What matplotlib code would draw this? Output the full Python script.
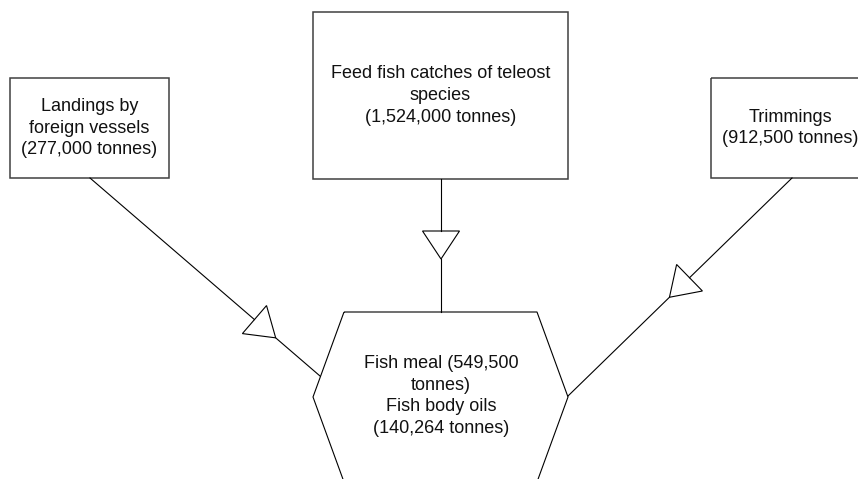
import numpy as np
import matplotlib.pyplot as plt
from matplotlib.patches import Polygon, Rectangle

# source flows and product (tonnes)
source_names = ["Landings by\nforeign vessels", "Feed fish catches of teleost\nspecies", "Trimmings"]
source_tonnes = [277000, 1524000, 912500]
meal_tonnes = 549500
oil_tonnes = 140264

# layout in pixel coordinates (x right, y down)
boxes = [(10, 78, 159, 100), (313, 12, 255, 167), (711, 78, 158, 100)]
starts = [(90, 178), (441, 179), (792, 178)]
ends = [(320, 376), (441, 312), (568, 396)]
tip_dist = [245, 80, 171]
hexagon = [(344, 312), (537, 312), (568, 397), (537, 482), (344, 482), (313, 397)]

plt.rcParams['font.family'] = ['Liberation Sans', 'DejaVu Sans']

fig = plt.figure(figsize=(8.58, 4.79), dpi=100)
ax = fig.add_axes([0, 0, 1, 1])
ax.set_xlim(0, 858)
ax.set_ylim(479, 0)
ax.axis('off')

box_col = '#404040'
fs = 13
lsp = 1.38


def arrow(ax, start, end, dist, head_len=28, head_w=37):
    start = np.array(start, float)
    end = np.array(end, float)
    u = (end - start) / np.linalg.norm(end - start)
    n = np.array([-u[1], u[0]])
    tip = start + u * dist
    base = tip - u * head_len
    ax.plot([start[0], base[0]], [start[1], base[1]], color='black', lw=0.8)
    ax.plot([tip[0], end[0]], [tip[1], end[1]], color='black', lw=0.8)
    tri = [base + n * head_w / 2, base - n * head_w / 2, tip]
    ax.add_patch(Polygon(tri, closed=True, fill=False, ec='black', lw=0.8))


for (x, y, w, h), name, t in zip(boxes, source_names, source_tonnes):
    ax.add_patch(Rectangle((x, y), w, h, fill=False, ec=box_col, lw=1.1))
    ax.text(x + w / 2, y + h / 2, f"{name}\n({t:,} tonnes)", ha='center', va='center',
            fontsize=fs, linespacing=lsp, color='#111111')

for s, e, d in zip(starts, ends, tip_dist):
    arrow(ax, s, e, d)

ax.add_patch(Polygon(hexagon, closed=True, fill=False, ec='black', lw=0.8))
ax.text(441, 396, f"Fish meal ({meal_tonnes:,}\ntonnes)\nFish body oils\n({oil_tonnes:,} tonnes)",
        ha='center', va='center', fontsize=fs, linespacing=lsp, color='#111111')

fig.savefig('out.png', dpi=100)
